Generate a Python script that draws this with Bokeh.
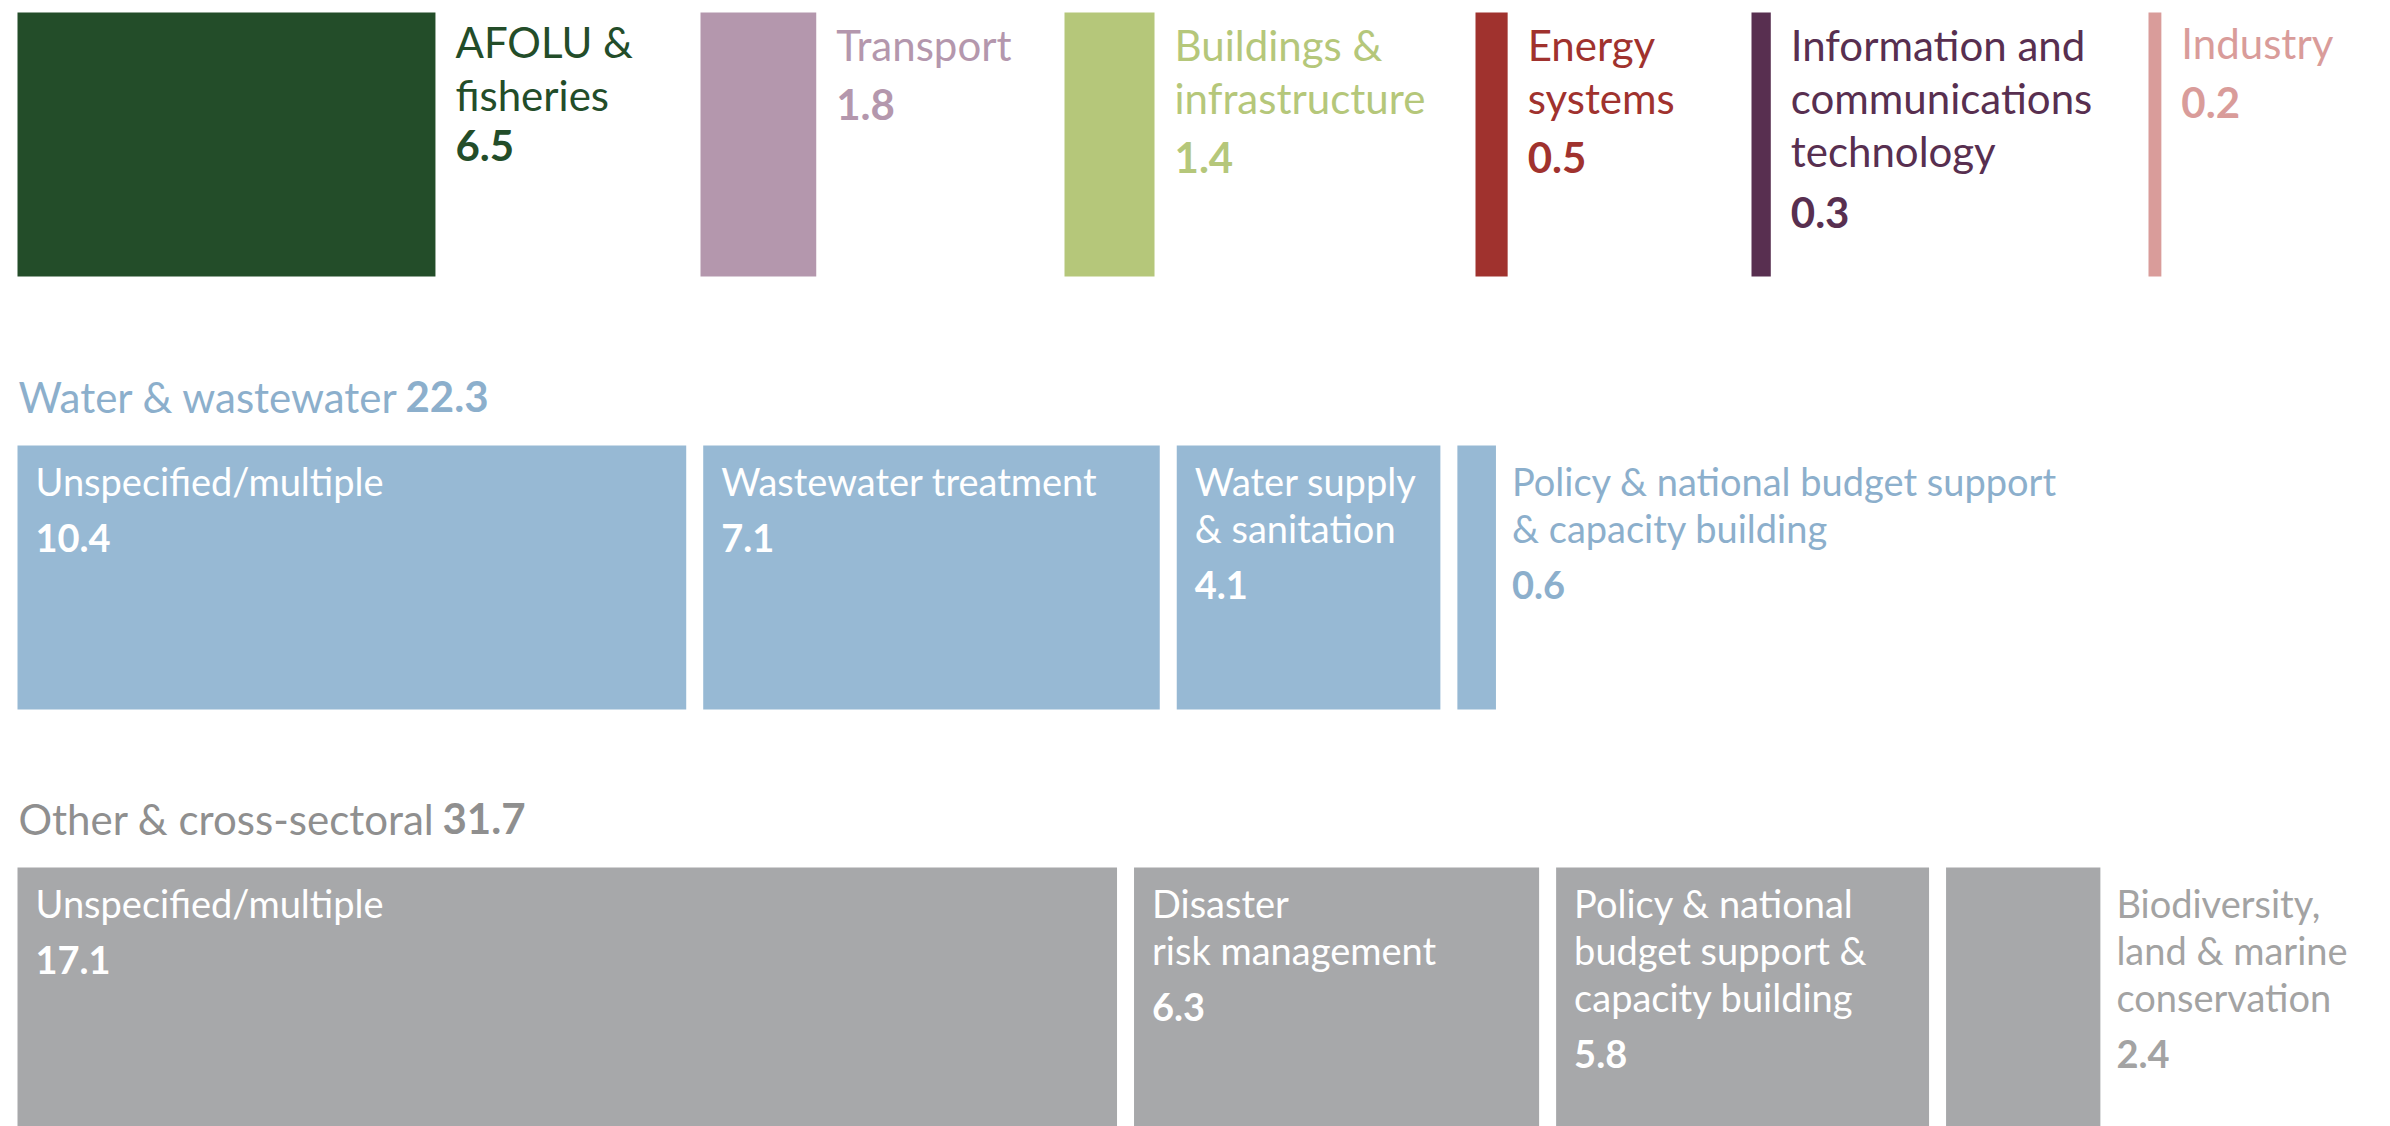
from bokeh.plotting import figure
from bokeh.models import Range1d, ColumnDataSource
from bokeh.core.properties import value
from bokeh.embed import file_html
from bokeh.resources import INLINE

# ---------------- data ----------------
top_sectors = ["AFOLU &\nfisheries", "Transport", "Buildings &\ninfrastructure",
               "Energy\nsystems", "Information and\ncommunications\ntechnology", "Industry"]
top_values = [6.5, 1.8, 1.4, 0.5, 0.3, 0.2]
top_colors = ["#234d29", "#b497ad", "#b5c77a", "#a0322e", "#582f50", "#d99c9a"]

water_title = "Water & wastewater"
water_total = 22.3
water_subs = ["Unspecified/multiple", "Wastewater treatment", "Water supply\n& sanitation",
              "Policy & national budget support\n& capacity building"]
water_values = [10.4, 7.1, 4.1, 0.6]

other_title = "Other & cross-sectoral"
other_total = 31.7
other_subs = ["Unspecified/multiple", "Disaster\nrisk management",
              "Policy & national\nbudget support &\ncapacity building",
              "Biodiversity,\nland & marine\nconservation"]
other_values = [17.1, 6.3, 5.8, 2.4]

# ---------------- layout (pixels) ----------------
W, H = 2390, 1126
PAGE = 0
K = 64.3                      # pixels per unit of value
FONT = "Lato"
BIG = "42px"
SMALL = "38px"
TEXT_DY = -16
BOX_H = 264
GAP = 17
top_slot_px = [17, 700, 1064, 1475, 1751, 2148]
top_first_dy = [-3, 0, 0, 0, 0, -2]
top_value_gap = [51, 60, 60, 60, 62, 60]
TOP_Y = 12
WATER_Y = 445
OTHER_Y = 867
HEAD_X = 18
water_num_x = 405
other_num_x = 442
OUTSIDE_LIMIT = 3.0

WATER_COL = "#97b9d4"
WATER_TXT = "#8cafcc"
OTHER_COL = "#a7a8aa"
OTHER_HEAD = "#8f8f8f"
OTHER_TXT = "#a3a3a3"


def ux(px):
    return (px - PAGE) / K


def uy(py):
    return py - PAGE + TEXT_DY


p = figure(width=W, height=H, output_backend="svg", toolbar_location=None,
           x_range=Range1d(0, W / K), y_range=Range1d(H, 0),
           min_border=0, min_border_left=0, min_border_right=0,
           min_border_top=0, min_border_bottom=0)
p.axis.visible = False
p.grid.visible = False
p.outline_line_color = None
p.background_fill_color = "white"
p.border_fill_color = "white"

rects = dict(left=[], right=[], top=[], bottom=[], color=[])
txt_norm = {BIG: dict(x=[], y=[], text=[], color=[]), SMALL: dict(x=[], y=[], text=[], color=[])}
txt_bold = {BIG: dict(x=[], y=[], text=[], color=[]), SMALL: dict(x=[], y=[], text=[], color=[])}


def add_text(store, size, x, y, t, c):
    d = store[size]
    d["x"].append(x)
    d["y"].append(y)
    d["text"].append(t)
    d["color"].append(c)


def add_rect(left, right, top_px, c):
    rects["left"].append(left)
    rects["right"].append(right)
    rects["top"].append(top_px - PAGE)
    rects["bottom"].append(top_px + BOX_H - PAGE)
    rects["color"].append(c)


# top row
for i, (lab, v, c) in enumerate(zip(top_sectors, top_values, top_colors)):
    left = ux(top_slot_px[i])
    right = left + v
    add_rect(left, right, TOP_Y, c)
    tx = right + 20 / K
    yb = uy(TOP_Y + 48 + top_first_dy[i])
    lines = lab.split("\n")
    for j, ln in enumerate(lines):
        add_text(txt_norm, BIG, tx, yb + 53 * j, ln, c)
    add_text(txt_bold, BIG, tx, yb + 53 * (len(lines) - 1) + top_value_gap[i], f"{v:.1f}", c)


def sub_row(title, total, num_x, subs, vals, box_y, col, head_col, txt_col):
    add_text(txt_norm, BIG, ux(HEAD_X), uy(box_y - 33), title, head_col)
    add_text(txt_bold, BIG, ux(num_x), uy(box_y - 33), f"{total:.1f}", head_col)
    left = ux(17)
    for lab, v in zip(subs, vals):
        right = left + v
        add_rect(left, right, box_y, col)
        if v < OUTSIDE_LIMIT:
            tx = right + 16 / K
            tc = txt_col
        else:
            tx = left + 18 / K
            tc = "white"
        yb = uy(box_y + 51)
        lines = lab.split("\n")
        for j, ln in enumerate(lines):
            add_text(txt_norm, SMALL, tx, yb + 47 * j, ln, tc)
        add_text(txt_bold, SMALL, tx, yb + 47 * (len(lines) - 1) + 57, f"{v:.1f}", tc)
        left = right + GAP / K


sub_row(water_title, water_total, water_num_x, water_subs, water_values, WATER_Y,
        WATER_COL, WATER_TXT, WATER_TXT)
sub_row(other_title, other_total, other_num_x, other_subs, other_values, OTHER_Y,
        OTHER_COL, OTHER_HEAD, OTHER_TXT)

p.quad(left="left", right="right", top="top", bottom="bottom", fill_color="color",
       line_color=None, source=ColumnDataSource(rects))

for size, d in txt_norm.items():
    p.text(x="x", y="y", text="text", text_color="color", source=ColumnDataSource(d),
           text_font=value(FONT), text_font_size=value(size),
           text_baseline="alphabetic", text_align="left")
for size, d in txt_bold.items():
    p.text(x="x", y="y", text="text", text_color="color", source=ColumnDataSource(d),
           text_font=value(FONT), text_font_size=value(size), text_font_style="bold",
           text_baseline="alphabetic", text_align="left")

open("out.html", "w").write(file_html(p, INLINE))
